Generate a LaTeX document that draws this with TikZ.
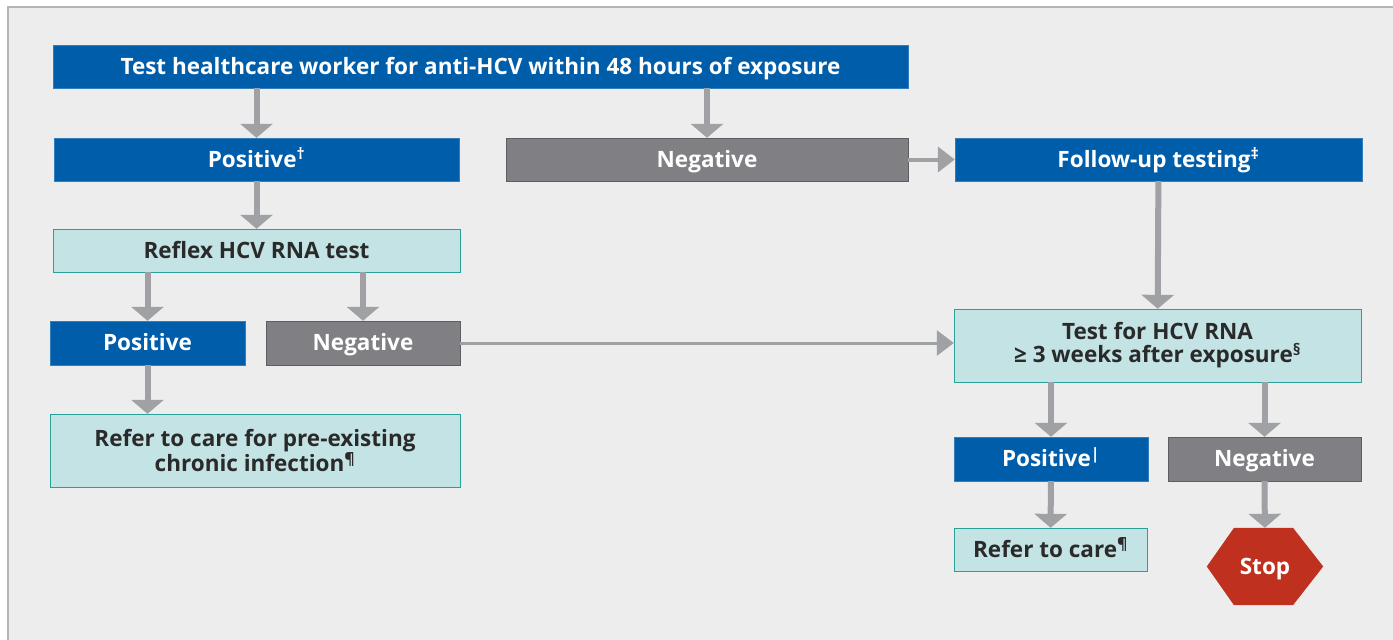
\documentclass[tikz,border=0pt]{standalone}
\usepackage{fontspec}
\setmainfont{Open Sans}
\usepackage{tikz}
\usetikzlibrary{arrows.meta,calc}

\definecolor{boxblue}{HTML}{005DAA}
\definecolor{boxgray}{HTML}{808084}
\definecolor{grayline}{HTML}{5E5E60}
\definecolor{boxteal}{HTML}{C3E3E4}
\definecolor{tealline}{HTML}{2AA198}
\definecolor{arrgray}{HTML}{A0A1A5}
\definecolor{bggray}{HTML}{ECEDEC}
\definecolor{framegray}{HTML}{B5B5B5}
\definecolor{stopred}{HTML}{C0301F}
\definecolor{textdark}{HTML}{2A2A2A}

\begin{document}
\begin{tikzpicture}[x=1pt, y=-1pt,
    every node/.style={inner sep=0pt, font=\fontsize{22.5}{23}\selectfont\bfseries, align=center},
    one/.style={text height=15.5pt, text depth=0pt},
    blue/.style={fill=boxblue, draw=boxblue!80!white, text=white, one},
    grey/.style={fill=boxgray, draw=grayline, text=white, one},
    teal/.style={fill=boxteal, draw=tealline, text=textdark},
    arr/.style={draw=arrgray, line width=6pt, -{Triangle[width=32pt,length=14pt]}},
    harr/.style={draw=arrgray, line width=4pt, -{Triangle[width=25pt,length=17pt]}}]
      \useasboundingbox (0,0) rectangle (1393,640);
      \fill[bggray] (8,7) rectangle (1410,660);
      \draw[framegray, line width=1.5pt] (8,660) -- (8,7) -- (1410,7);
      \node[blue, minimum width=855, minimum height=43] (1) at (480.5, 66.5) {Test healthcare worker for anti-HCV within 48 hours of exposure};
      \node[blue, minimum width=405, minimum height=43] (2) at (256.5, 159.5) {Positive\textsuperscript{†}};
      \node[grey, minimum width=402, minimum height=43] (3) at (707, 159.5) {Negative};
      \node[blue, minimum width=407, minimum height=43] (4) at (1158.5, 159.5) {Follow-up testing\textsuperscript{‡}};
      \node[teal, one, minimum width=407, minimum height=43] (5) at (256.5, 250.5) {Reflex HCV RNA test};
      \node[blue, minimum width=195, minimum height=44] (6) at (147.5, 343) {Positive};
      \node[grey, minimum width=194, minimum height=44] (7) at (363, 343) {Negative};
      \node[teal, minimum width=407, minimum height=73] (8) at (1157.5, 345.5) {Test for HCV RNA\\≥ 3 weeks after exposure\textsuperscript{§}};
      \node[teal, minimum width=410, minimum height=73] (9) at (255, 450.5) {Refer to care for pre-existing\\chronic infection\textsuperscript{¶}};
      \node[blue, minimum width=194, minimum height=44] (10) at (1051, 459) {Positive\textsuperscript{|}};
      \node[grey, minimum width=193, minimum height=44] (11) at (1264.5, 459) {Negative};
      \node[teal, one, minimum width=193, minimum height=43] (12) at (1050.5, 549.5) {Refer to care\textsuperscript{¶}};
      \node[minimum width=116, minimum height=77] (13) at (1265, 566.5) {};
      \fill[stopred] (13.west) -- ($(13.north)+(-31,0)$) -- ($(13.north)+(28,0)$) -- (13.east)
                     -- ($(13.south)+(28,0)$) -- ($(13.south)+(-31,0)$) -- cycle;
      \node[text=white, one] at (13) {Stop};
      \draw[arr] (2 |- 1.south) -- (2);
      \draw[arr] (3 |- 1.south) -- (3);
      \draw[harr] (3) -- (4);
      \draw[arr] (2) -- (5);
      \draw[arr] (6 |- 5.south) -- (6);
      \draw[arr] (7 |- 5.south) -- (7);
      \draw[harr, line width=3pt] (7.east) -- (7.east -| 8.west);
      \draw[arr] (4) -- (8);
      \draw[arr] (6) -- (9.north -| 6);
      \draw[arr] (10 |- 8.south) -- (10);
      \draw[arr] (11 |- 8.south) -- (11);
      \draw[arr] (10) -- (12);
      \draw[arr] (11) -- (13);
    \end{tikzpicture}
\end{document}
